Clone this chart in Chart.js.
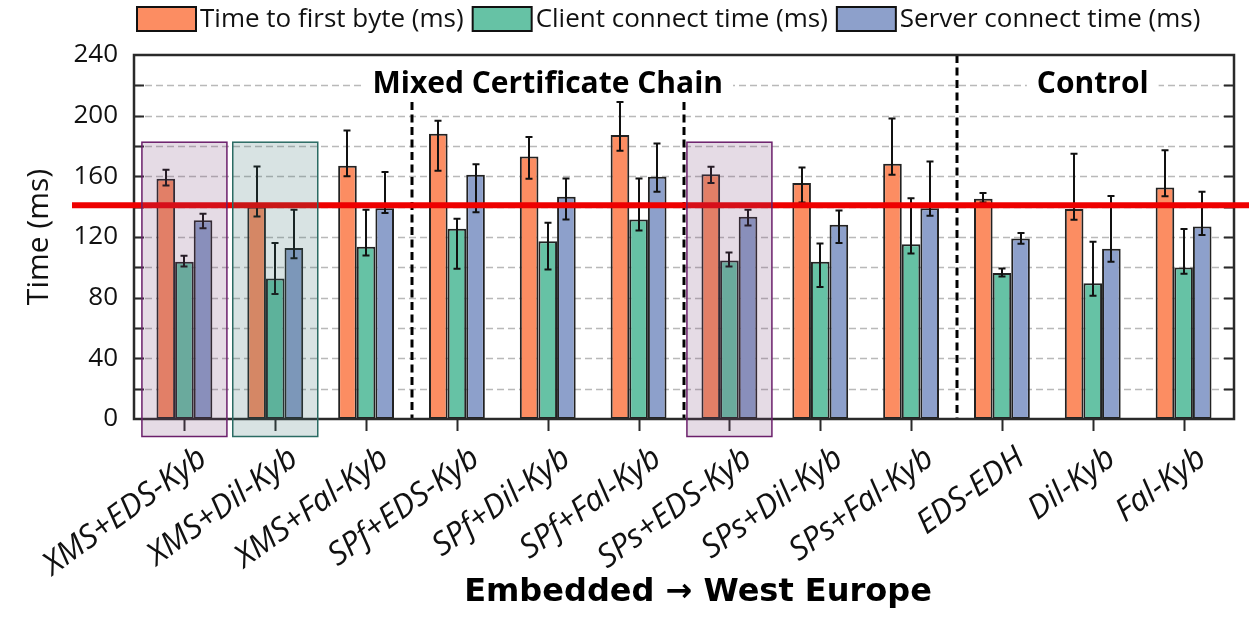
<!DOCTYPE html>
<html><head><meta charset="utf-8">
<script src="https://cdn.jsdelivr.net/npm/chart.js@4"></script>
<style>html,body{margin:0;padding:0;background:#fff;}#wrap{width:1249px;height:622px;position:relative;}</style>
</head><body><div id="wrap"><canvas id="c"></canvas></div>
<script>
// ---------- data ----------
const categories = ['XMS+EDS-Kyb','XMS+Dil-Kyb','XMS+Fal-Kyb','SPf+EDS-Kyb','SPf+Dil-Kyb','SPf+Fal-Kyb','SPs+EDS-Kyb','SPs+Dil-Kyb','SPs+Fal-Kyb','EDS-EDH','Dil-Kyb','Fal-Kyb'];
const seriesNames = ['Time to first byte (ms)','Client connect time (ms)','Server connect time (ms)'];
const ttfb      = [158.4, 140.0, 167.0, 188.1, 173.1, 187.2, 161.3, 155.6, 168.3, 145.3, 138.4, 152.7];
const ttfbLow   = [154.0, 133.5, 160.0, 163.7, 158.4, 176.9, 155.6, 142.8, 161.0, 142.8, 131.4, 146.8];
const ttfbHigh  = [164.4, 166.5, 190.3, 196.7, 185.9, 209.0, 166.3, 165.9, 198.2, 149.0, 174.9, 177.2];
const client     = [103.6, 92.6, 113.5, 125.4, 117.2, 131.6, 104.5, 103.7, 115.3, 96.2, 89.5, 99.9];
const clientLow  = [100.5, 82.5, 107.8, 99.0, 98.6, 124.3, 100.5, 87.1, 109.1, 93.9, 81.2, 95.7];
const clientHigh = [107.6, 116.0, 138.0, 132.0, 129.4, 158.6, 109.8, 115.7, 145.5, 99.2, 116.8, 125.2];
const server     = [131.1, 112.7, 139.0, 161.0, 146.5, 159.7, 133.3, 128.0, 139.0, 119.0, 112.2, 126.9];
const serverLow  = [125.8, 106.0, 135.8, 136.4, 131.6, 149.8, 127.6, 116.0, 134.0, 115.5, 103.6, 121.3];
const serverHigh = [135.3, 138.0, 162.8, 168.0, 158.6, 181.7, 138.0, 137.5, 169.8, 122.6, 147.0, 149.8];
const yTickValues = [0, 40, 80, 120, 160, 200, 240];
const thresholdValue = 141;
const groupLabels = ['Mixed Certificate Chain', 'Control'];
const groupLabelCenters = [4, 10];          // category index under each group label
const separatorsAfter = [2, 5, 8];          // dashed line after these category indices
const highlighted = [0, 1, 6];              // highlighted categories
const axisTitleY = 'Time (ms)';
const axisTitleX = 'Embedded \u2192 West Europe';

// ---------- styles ----------
const colors = ['#fc8d62', '#66c2a5', '#8da0cb'];
const highlightStyles = [
  {fill: 'rgba(125,75,125,0.2)', stroke: '#6b1f6b'},
  {fill: 'rgba(60,115,115,0.2)', stroke: '#2a6b63'},
  {fill: 'rgba(125,75,125,0.2)', stroke: '#6b1f6b'}
];
const lows = [ttfbLow, clientLow, serverLow];
const highs = [ttfbHigh, clientHigh, serverHigh];
const values = [ttfb, client, server];
const LABEL_ANGLE = 36 * Math.PI / 180;

const decor = {
  id: 'decor',
  beforeDatasetsDraw(chart) {
    const {ctx, chartArea: a, scales: {x, y}} = chart;
    const L = a.left - 5, R = a.right + 5;
    ctx.save();
    ctx.strokeStyle = '#b9b9b9'; ctx.lineWidth = 1.6; ctx.setLineDash([7, 4]);
    for (let v = 20; v < 240; v += 20) {
      const py = Math.round(y.getPixelForValue(v)) + 0.5;
      ctx.beginPath(); ctx.moveTo(L, py); ctx.lineTo(R, py); ctx.stroke();
    }
    ctx.setLineDash([]);
    ctx.font = 'bold 30px "Open Sans"';
    ctx.textAlign = 'center'; ctx.textBaseline = 'alphabetic';
    groupLabels.forEach((t, i) => {
      const cx = x.getPixelForValue(groupLabelCenters[i]);
      const w = ctx.measureText(t).width;
      ctx.fillStyle = '#fff';
      ctx.fillRect(cx - w / 2 - 10, y.getPixelForValue(232), w + 20, y.getPixelForValue(206) - y.getPixelForValue(232));
      ctx.fillStyle = '#000';
      ctx.fillText(t, cx, 93);
    });
    ctx.restore();
  },
  afterDatasetsDraw(chart) {
    const {ctx, chartArea: a, scales: {x, y}} = chart;
    const L = a.left - 5, R = a.right + 5;
    ctx.save();
    ctx.strokeStyle = '#111'; ctx.lineWidth = 2;
    chart.data.datasets.forEach((ds, di) => {
      const meta = chart.getDatasetMeta(di);
      meta.data.forEach((bar, j) => {
        const yl = y.getPixelForValue(lows[di][j]);
        const yh = y.getPixelForValue(highs[di][j]);
        const bx = Math.round(bar.x);
        ctx.beginPath();
        ctx.moveTo(bx, yh); ctx.lineTo(bx, yl);
        ctx.moveTo(bx - 3.5, yh); ctx.lineTo(bx + 3.5, yh);
        ctx.moveTo(bx - 3.5, yl); ctx.lineTo(bx + 3.5, yl);
        ctx.stroke();
      });
    });
    ctx.strokeStyle = '#000'; ctx.lineWidth = 3; ctx.setLineDash([8, 4.5]);
    separatorsAfter.forEach((ci, k) => {
      const sx = Math.round((x.getPixelForValue(ci) + x.getPixelForValue(ci + 1)) / 2);
      const top = k === 2 ? a.top : y.getPixelForValue(209);
      ctx.beginPath(); ctx.moveTo(sx, top); ctx.lineTo(sx, a.bottom); ctx.stroke();
    });
    ctx.setLineDash([]);
    ctx.strokeStyle = '#2a2a2a'; ctx.lineWidth = 2.5;
    ctx.strokeRect(L, a.top, R - L, a.bottom - a.top);
    ctx.lineWidth = 2;
    ctx.beginPath();
    for (let v = 20; v < 240; v += 20) {
      const py = Math.round(y.getPixelForValue(v)) + 0.5;
      ctx.moveTo(L, py); ctx.lineTo(L + 10, py);
      ctx.moveTo(R, py); ctx.lineTo(R - 10, py);
    }
    categories.forEach((c, i) => {
      const px = Math.round(x.getPixelForValue(i)) + 0.5;
      ctx.moveTo(px, a.bottom); ctx.lineTo(px, a.bottom + 12);
    });
    ctx.stroke();
    const ty = y.getPixelForValue(thresholdValue);
    ctx.strokeStyle = '#ee0000'; ctx.lineWidth = 6;
    ctx.beginPath(); ctx.moveTo(72, ty); ctx.lineTo(chart.width, ty); ctx.stroke();
    highlighted.forEach((ci, k) => {
      const cx = x.getPixelForValue(ci);
      const top = y.getPixelForValue(182.5);
      const bot = y.getPixelForValue(0) + 17.5;
      ctx.fillStyle = highlightStyles[k].fill;
      ctx.fillRect(cx - 42.5, top, 85, bot - top);
      ctx.strokeStyle = highlightStyles[k].stroke; ctx.lineWidth = 1.5;
      ctx.strokeRect(cx - 42.5, top, 85, bot - top);
    });
    ctx.restore();
  },
  afterDraw(chart) {
    const {ctx, chartArea: a, scales: {x}} = chart;
    ctx.save();
    ctx.font = 'italic 32px "Open Sans"'; ctx.fillStyle = '#111';
    ctx.textAlign = 'right'; ctx.textBaseline = 'middle';
    categories.forEach((c, i) => {
      ctx.save();
      ctx.translate(x.getPixelForValue(i) + 19, a.bottom + 36);
      ctx.rotate(-LABEL_ANGLE);
      ctx.fillText(c, 0, 0);
      ctx.restore();
    });
    ctx.font = '26px "Open Sans"'; ctx.textBaseline = 'middle'; ctx.textAlign = 'left';
    let lx = 137;
    chart.data.datasets.forEach((ds) => {
      ctx.fillStyle = ds.backgroundColor; ctx.fillRect(lx, 7, 59, 24);
      ctx.strokeStyle = '#111'; ctx.lineWidth = 2; ctx.strokeRect(lx, 7, 59, 24);
      ctx.fillStyle = '#111';
      ctx.fillText(ds.label, lx + 63, 19.5);
      lx += 63 + ctx.measureText(ds.label).width + 9;
    });
    ctx.save();
    ctx.translate(39, (a.top + a.bottom) / 2);
    ctx.rotate(-Math.PI / 2);
    ctx.font = '30px "Open Sans"'; ctx.textAlign = 'center'; ctx.textBaseline = 'middle';
    ctx.fillStyle = '#111';
    ctx.fillText(axisTitleY, 0, 0);
    ctx.restore();
    ctx.font = 'bold 32px "DejaVu Sans"'; ctx.textAlign = 'center'; ctx.textBaseline = 'alphabetic';
    ctx.fillStyle = '#000';
    ctx.fillText(axisTitleX, 698, 601);
    ctx.restore();
  }
};

new Chart(document.getElementById('c'), {
  type: 'bar',
  data: {
    labels: categories,
    datasets: seriesNames.map((n, i) => ({
      label: n, data: values[i], backgroundColor: colors[i],
      borderColor: '#222', borderWidth: 2, borderSkipped: false,
      barPercentage: 1.0, categoryPercentage: 0.615
    }))
  },
  options: {
    responsive: true, maintainAspectRatio: false, animation: false,
    layout: {padding: {top: 55, right: 20, left: 0, bottom: 0}},
    plugins: {legend: {display: false}, tooltip: {enabled: false}},
    scales: {
      x: {
        grid: {display: false, drawTicks: false}, border: {display: false},
        ticks: {display: false},
        afterFit(s) { s.height = 203; }
      },
      y: {
        min: 0, max: 240,
        grid: {display: false, drawTicks: false}, border: {display: false},
        afterBuildTicks(s) { s.ticks = yTickValues.map(v => ({value: v})); },
        ticks: {font: {family: 'Open Sans', size: 26}, color: '#111', padding: 21},
        afterFit(s) { s.width = 139; }
      }
    }
  },
  plugins: [decor]
});
</script></body></html>
